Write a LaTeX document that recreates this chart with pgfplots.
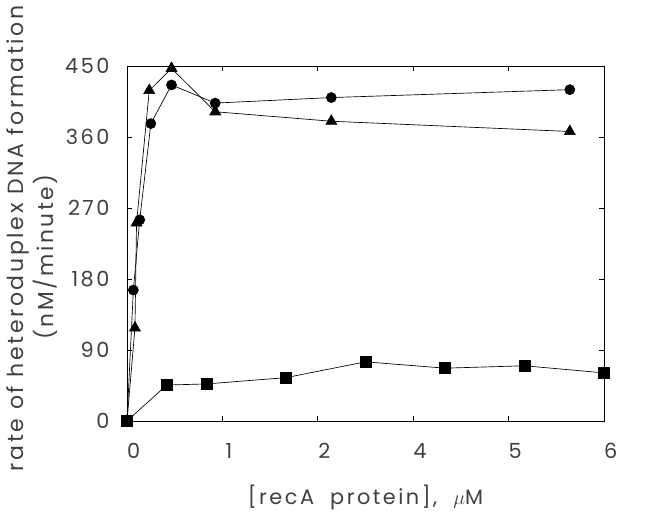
\documentclass[border=0pt]{standalone}
\usepackage{pgfplots}
\pgfplotsset{compat=1.18}
\usepackage{fontspec}
\setmainfont{Poppins}[LetterSpace=12]
\begin{document}
\begin{tikzpicture}
\begin{axis}[
  scale only axis,
  width=286.2pt, height=213pt,
  xmin=0, xmax=6, ymin=0, ymax=450,
  xtick={0,1.2,2.4,3.6,4.8,6},
  xticklabels={0,1,2,4,5,6},
  ytick={0,90,180,270,360,450},
  yticklabels={0,90,180,270,360,450},
  tick align=inside,
  major tick length=3pt,
  tick style={black, line width=0.4pt},
  axis line style={line width=0.6pt},
  ticklabel style={font=\fontsize{12.5}{14}\selectfont, text=black!75},
  xticklabel style={yshift=-10pt, xshift=4pt},
  yticklabel style={xshift=-7pt},
  xlabel={{[}recA\ \ protein{]},\ \ $\mu$M},
  xlabel style={at={(axis description cs:0.5,0)}, anchor=center, yshift=-45.6pt, font=\fontsize{12.5}{14}\selectfont, text=black!75},
  clip=false,
]
\addplot[black, line width=0.4pt, mark=*, mark size=3pt] coordinates {
  (0,0) (0.08,166) (0.16,255) (0.30,377) (0.56,426) (1.11,403) (2.57,410) (5.57,420)
};
\addplot[black, line width=0.4pt, mark=triangle*, mark size=3.8pt] coordinates {
  (0,0) (0.10,118) (0.12,251) (0.28,419) (0.56,447) (1.11,392) (2.57,380) (5.57,367)
};
\addplot[black, line width=0.4pt, mark=square*, mark size=3.2pt] coordinates {
  (0,0) (0.5,45.6) (1,47) (2,55) (3,75) (4,67) (5,70) (6,61)
};
\coordinate (SW) at (rel axis cs:0,0);
\coordinate (NE) at (rel axis cs:1,1);
\node[rotate=90, anchor=west, font=\fontsize{13.2}{15}\selectfont, text=black!75] at ([xshift=-65.4pt, yshift=-33.6pt]rel axis cs:0,0) {rate of heteroduplex DNA formation};
\node[rotate=90, anchor=center, font=\fontsize{13}{15}\selectfont, text=black!75] at ([xshift=-49.2pt]rel axis cs:0,0.462) {(nM/minute)};
\end{axis}
\pgfresetboundingbox
\path ([shift={(-76.2pt,-61.2pt)}]SW) rectangle ([shift={(39.6pt,39.6pt)}]NE);
\end{tikzpicture}
\end{document}
